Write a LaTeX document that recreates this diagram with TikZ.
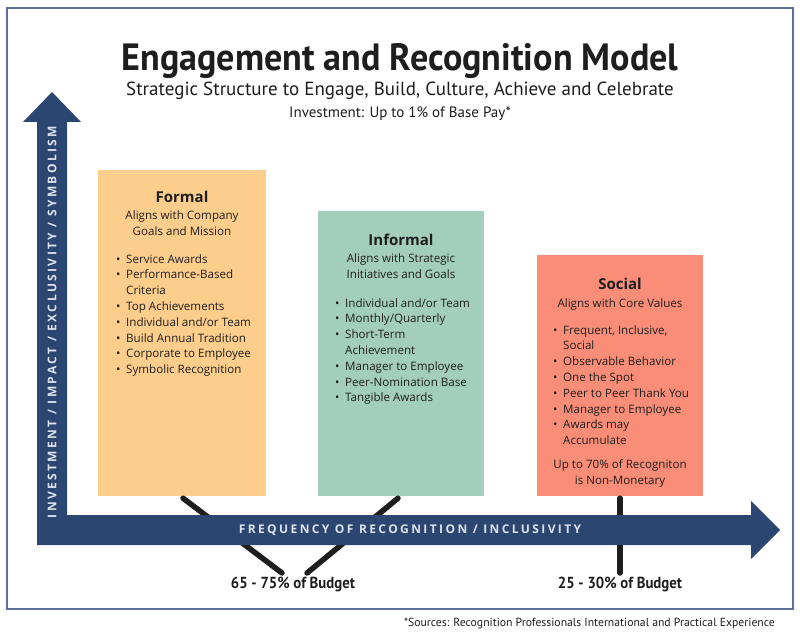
\documentclass[tikz,border=0pt]{standalone}
\usepackage{fontspec}
\setmainfont{Open Sans}
\newfontfamily\titlefont[FakeStretch=0.925]{PT Sans}
\newfontfamily\bigtitlefont[FakeStretch=0.95]{PT Sans}
\newfontfamily\plainfont{PT Sans}
\newfontfamily\axisfont[LetterSpace=20]{Open Sans}
\usetikzlibrary{calc}
\definecolor{navy}{HTML}{2C4672}
\definecolor{frameblue}{HTML}{5B7099}
\definecolor{formalc}{HTML}{FDCD8C}
\definecolor{informalc}{HTML}{A2CEBB}
\definecolor{socialc}{HTML}{F98D77}
\definecolor{ink}{HTML}{1E1E1E}
\definecolor{axistext}{HTML}{DDE3EC}
\tikzset{
  box/.style={draw=none, inner sep=0pt, minimum width=#1},
  boxtitle/.style={inner sep=0pt, anchor=base, text=ink, font=\bfseries\fontsize{15}{18}\selectfont},
  boxsub/.style={inner sep=0pt, anchor=base, align=center, text=ink, font=\fontsize{11.6}{16}\selectfont},
  bullets/.style={inner sep=0pt, anchor=base west, align=left, text=ink, font=\fontsize{11.6}{15.8}\selectfont},
  connector/.style={line width=5.5pt, line cap=round, draw=ink},
  budget/.style={inner sep=0pt, anchor=base, text=ink, font=\titlefont\bfseries\fontsize{16}{18}\selectfont},
  axislabel/.style={inner sep=0pt, text=axistext, font=\axisfont\bfseries\fontsize{12}{14}\selectfont}
}
\newcommand{\bul}{\makebox[10pt][l]{\textbullet}}
\newcommand{\ind}{\hspace*{10pt}}
\begin{document}
\begin{tikzpicture}[x=1pt,y=-1pt]
\useasboundingbox[fill=white] (0,0) rectangle (800,636);
% frame
\draw[frameblue, line width=1.3pt] (7,8) rectangle (793,609);
% title
\node[inner sep=0pt, anchor=base, text=ink, font=\bigtitlefont\bfseries\fontsize{38}{42}\selectfont] (title) at (400,71) {Engagement and Recognition Model};
\node[inner sep=0pt, anchor=base, text=ink, font=\plainfont\fontsize{19}{22}\selectfont] (subtitle) at (400,96) {Strategic Structure to Engage, Build, Culture, Achieve and Celebrate};
\node[inner sep=0pt, anchor=base, text=ink, font=\plainfont\fontsize{15}{18}\selectfont] (invest) at (400,118) {Investment: Up to 1\% of Base Pay*};
% boxes
\node[box=168pt, minimum height=326pt, fill=formalc] (formal) at (182,333) {};
\node[box=166pt, minimum height=285pt, fill=informalc] (informal) at (401,353.5) {};
\node[box=166pt, minimum height=241pt, fill=socialc] (social) at (620,375.5) {};
% formal text (base anchor = last line)
\node[boxtitle] (ft) at (182,203) {Formal};
\node[boxsub] (fs) at (182,236) {Aligns with Company\\Goals and Mission};
\node[bullets] (fb) at (116,373.6) {\bul Service Awards\\\bul Performance-Based\\\ind Criteria\\\bul Top Achievements\\\bul Individual and/or Team\\\bul Build Annual Tradition\\\bul Corporate to Employee\\\bul Symbolic Recognition};
% informal text
\node[boxtitle] (it) at (401,246) {Informal};
\node[boxsub] (is) at (401,278) {Aligns with Strategic\\Initiatives and Goals};
\node[bullets] (ib) at (335,401.8) {\bul Individual and/or Team\\\bul Monthly/Quarterly\\\bul Short-Term\\\ind Achievement\\\bul Manager to Employee\\\bul Peer-Nomination Base\\\bul Tangible Awards};
% social text
\node[boxtitle] (st) at (620,290) {Social};
\node[boxsub] (ss) at (620,307) {Aligns with Core Values};
\node[bullets] (sb) at (553,444.6) {\bul Frequent, Inclusive,\\\ind Social\\\bul Observable Behavior\\\bul One the Spot\\\bul Peer to Peer Thank You\\\bul Manager to Employee\\\bul Awards may\\\ind Accumulate};
\node[boxsub] (sf) at (620,484) {Up to 70\% of Recogniton\\is Non-Monetary};
% budget labels
\node[budget] (b1) at (293,588) {65 - 75\% of Budget};
\node[budget] (b2) at (620,588) {25 - 30\% of Budget};
\coordinate (b1l) at (282,573);
\coordinate (b1r) at (307,573);
\coordinate (b2t) at (620,573);
% connectors
\draw[connector] (formal.south) ++(1,2) -- (b1l);
\draw[connector] (informal.south) ++(-3,2) -- (b1r);
\draw[connector] (social.south) ++(0,2) -- (b2t);
% axes arrow
\fill[navy] (52,92) -- (81,122) -- (67,122) -- (67,515) -- (751,515) -- (751,501) -- (780,530) -- (751,559) -- (751,545) -- (37,545) -- (37,122) -- (23,122) -- cycle;
\node[axislabel, rotate=90] (yl) at (52,322) {INVESTMENT / IMPACT / EXCLUSIVITY / SYMBOLISM};
\node[axislabel] (xl) at (410,530) {FREQUENCY OF RECOGNITION / INCLUSIVITY};
% footnote
\node[inner sep=0pt, anchor=base east, text=ink, font=\plainfont\fontsize{11.7}{14}\selectfont] (note) at (775,626) {*Sources: Recognition Professionals International and Practical Experience};
\end{tikzpicture}
\end{document}
